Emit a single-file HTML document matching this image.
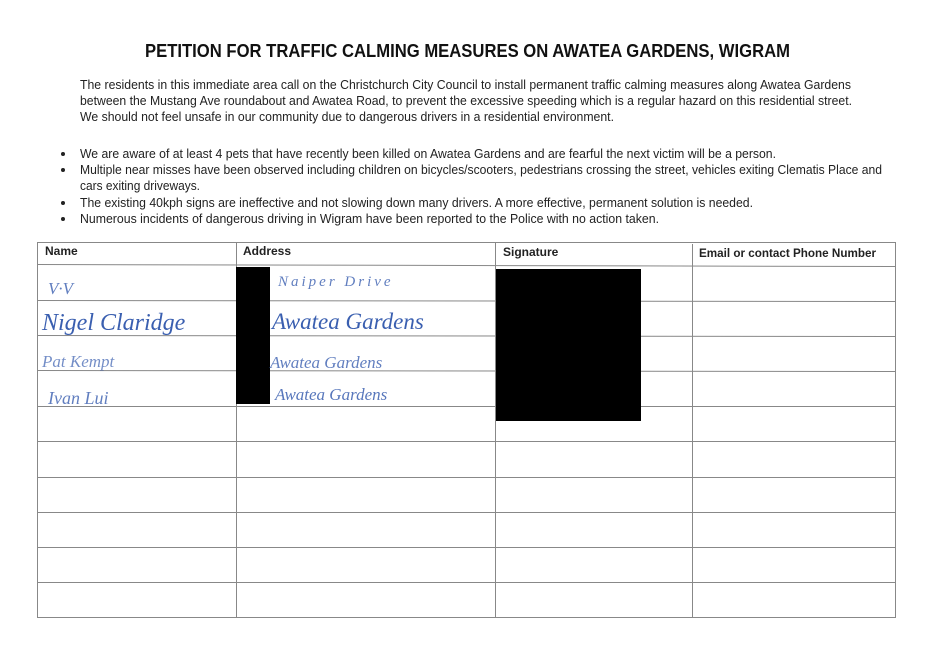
<!DOCTYPE html>
<html><head><meta charset="utf-8"><style>
html,body{margin:0;padding:0;background:#fff;}
svg{display:block}
</style></head><body>
<svg width="934" height="661" xmlns="http://www.w3.org/2000/svg" font-family="Liberation Sans, sans-serif">
<rect width="934" height="661" fill="#fff"/>
<text x="145" y="57" font-size="18" font-weight="bold" fill="#111" textLength="645" lengthAdjust="spacingAndGlyphs">PETITION FOR TRAFFIC CALMING MEASURES ON AWATEA GARDENS, WIGRAM</text>
<g font-size="12.5" fill="#222">
<text x="80" y="89" textLength="771" lengthAdjust="spacingAndGlyphs">The residents in this immediate area call on the Christchurch City Council to install permanent traffic calming measures along Awatea Gardens</text>
<text x="80" y="105" textLength="772" lengthAdjust="spacingAndGlyphs">between the Mustang Ave roundabout and Awatea Road, to prevent the excessive speeding which is a regular hazard on this residential street.</text>
<text x="80" y="121" textLength="534" lengthAdjust="spacingAndGlyphs">We should not feel unsafe in our community due to dangerous drivers in a residential environment.</text>
<text x="80" y="158" textLength="696" lengthAdjust="spacingAndGlyphs">We are aware of at least 4 pets that have recently been killed on Awatea Gardens and are fearful the next victim will be a person.</text>
<text x="80" y="174" textLength="802" lengthAdjust="spacingAndGlyphs">Multiple near misses have been observed including children on bicycles/scooters, pedestrians crossing the street, vehicles exiting Clematis Place and</text>
<text x="80" y="190" textLength="120" lengthAdjust="spacingAndGlyphs">cars exiting driveways.</text>
<text x="80" y="207" textLength="673" lengthAdjust="spacingAndGlyphs">The existing 40kph signs are ineffective and not slowing down many drivers. A more effective, permanent solution is needed.</text>
<text x="80" y="223" textLength="579" lengthAdjust="spacingAndGlyphs">Numerous incidents of dangerous driving in Wigram have been reported to the Police with no action taken.</text>
</g>
<g fill="#222">
<circle cx="63" cy="154" r="2"/><circle cx="63" cy="170" r="2"/><circle cx="63" cy="203" r="2"/><circle cx="63" cy="219" r="2"/>
</g>
<g stroke="#888" stroke-width="1" fill="none">
<rect x="37.5" y="242.5" width="858" height="375"/>
<line x1="236.5" y1="242" x2="236.5" y2="618"/>
<line x1="495.5" y1="242" x2="495.5" y2="618"/>
<line x1="692.5" y1="244" x2="692.5" y2="618"/>
<line x1="37" y1="264.5" x2="896" y2="266.5"/>
<line x1="37" y1="300.5" x2="896" y2="301.5"/>
<line x1="37" y1="335.5" x2="896" y2="336.5"/>
<line x1="37" y1="370.5" x2="896" y2="371.5"/>
<line x1="37" y1="406.5" x2="896" y2="406.5"/>
<line x1="37" y1="441.5" x2="896" y2="441.5"/>
<line x1="37" y1="477.5" x2="896" y2="477.5"/>
<line x1="37" y1="512.5" x2="896" y2="512.5"/>
<line x1="37" y1="547.5" x2="896" y2="547.5"/>
<line x1="37" y1="582.5" x2="896" y2="582.5"/>
</g>
<g font-size="12" font-weight="bold" fill="#222">
<text x="45" y="255">Name</text>
<text x="243" y="255">Address</text>
<text x="503" y="256">Signature</text>
<text x="699" y="257" textLength="177" lengthAdjust="spacingAndGlyphs">Email or contact Phone Number</text>
</g>
<rect x="236" y="267" width="34" height="137" fill="#000"/>
<rect x="496" y="269" width="145" height="152" fill="#000"/>
<g font-family="Liberation Serif, serif" font-style="italic" fill="#3a5fb0">
<text x="48" y="294" font-size="17" opacity="0.8">V·V</text>
<text x="42" y="330" font-size="24">Nigel Claridge</text>
<text x="42" y="367" font-size="17" opacity="0.7">Pat Kempt</text>
<text x="48" y="404" font-size="18" opacity="0.8">Ivan Lui</text>
<text x="278" y="286" font-size="15" opacity="0.8" letter-spacing="3">Naiper Drive</text>
<text x="272" y="329" font-size="23">Awatea Gardens</text>
<text x="270" y="368" font-size="17" opacity="0.8">Awatea Gardens</text>
<text x="275" y="400" font-size="17" opacity="0.85">Awatea Gardens</text>
</g>
</svg>
</body></html>
